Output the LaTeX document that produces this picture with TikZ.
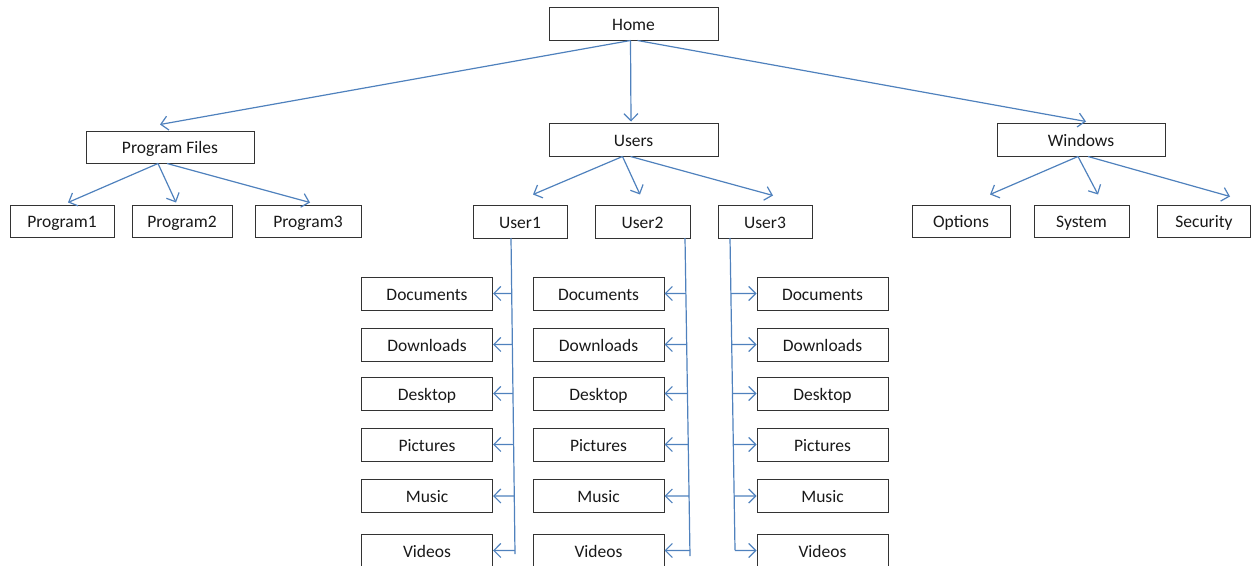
\documentclass[tikz,border=0pt]{standalone}
\usepackage{fontspec}
\setmainfont{Carlito}
\usetikzlibrary{arrows.meta,calc}
\definecolor{linkblue}{RGB}{79,129,189}
\tikzset{
  box/.style={draw=black!80, line width=1pt, minimum height=33pt, inner sep=0pt,
    text height=13pt, text depth=0pt,
    font=\fontsize{17.5}{20}\selectfont, text=black!90},
  arr/.style={draw=linkblue, line width=1.2pt,
    -{Straight Barb[length=7pt,width=14pt,line width=1.2pt]}},
  rail/.style={draw=linkblue, line width=1.2pt},
}
\begin{document}
\begin{tikzpicture}[x=1pt,y=-1pt]
\useasboundingbox (0,0) rectangle (1252,565);

% top level
\node[box, minimum width=169pt] (home) at (633.5,23.5) {Home};
\node[box, minimum width=168pt, minimum height=32pt] (pf) at (170,147) {Program Files};
\node[box, minimum width=169pt] (users) at (633.5,139.5) {Users};
\node[box, minimum width=168pt] (win) at (1081,139.5) {Windows};

% second level
\node[box, minimum width=104pt, minimum height=32pt] (p1) at (62,221) {Program1};
\node[box, minimum width=100pt, minimum height=32pt] (p2) at (182,221) {Program2};
\node[box, minimum width=106pt, minimum height=32pt] (p3) at (308,221) {Program3};
\node[box, minimum width=94pt] (u1) at (520,221.5) {User1};
\node[box, minimum width=95pt] (u2) at (642.5,221.5) {User2};
\node[box, minimum width=94pt] (u3) at (765,221.5) {User3};
\node[box, minimum width=98pt, minimum height=32pt] (opt) at (961,221) {Options};
\node[box, minimum width=95pt, minimum height=32pt] (sys) at (1081.5,221) {System};
\node[box, minimum width=93pt, minimum height=32pt] (sec) at (1204,221) {Security};

% user folders
\foreach \c/\x in {1/427,2/598.5,3/822.5}{
  \node[box, minimum width=131pt] (doc\c) at (\x,293.5) {Documents};
  \node[box, minimum width=131pt] (dl\c)  at (\x,344.5) {Downloads};
  \node[box, minimum width=131pt] (dsk\c) at (\x,393.5) {Desktop};
  \node[box, minimum width=131pt] (pic\c) at (\x,444.5) {Pictures};
  \node[box, minimum width=131pt] (mus\c) at (\x,496) {Music};
  \node[box, minimum width=131pt] (vid\c) at (\x,550.5) {Videos};
}

% Home
\draw[arr] ($(home.south)+(-3,0)$) -- ($(pf.north)+(-10,-6)$);
\draw[arr] ($(home.south)+(-3,0)$) -- ($(users.north)+(-2.5,-1)$);
\draw[arr] ($(home.south)+(4,0)$) -- ($(win.north)+(5,-1)$);

% Program Files
\draw[arr] ($(pf.south)+(-12,0)$) -- ($(p1.north)+(6,-2)$);
\draw[arr] ($(pf.south)+(-12,0)$) -- ($(p2.north)+(-6,-2)$);
\draw[arr] ($(pf.south)+(-3,0)$) -- ($(p3.north)+(2,-2)$);

% Users
\draw[arr] ($(users.south)+(-11,0)$) -- ($(u1.north)+(13,-10)$);
\draw[arr] ($(users.south)+(-11,0)$) -- ($(u2.north)+(-2.5,-10)$);
\draw[arr] ($(users.south)+(-3,0)$) -- ($(u3.north)+(8,-9)$);

% Windows
\draw[arr] ($(win.south)+(-3,0)$) -- ($(opt.north)+(29,-10)$);
\draw[arr] ($(win.south)+(-3,0)$) -- ($(sys.north)+(16.5,-10)$);
\draw[arr] ($(win.south)+(7,0)$) -- ($(sec.north)+(26,-8)$);

% rails below each user
\coordinate (r1a) at (511,238);  \coordinate (r1b) at (515,554);
\coordinate (r2a) at (685,238);  \coordinate (r2b) at (690,556);
\coordinate (r3a) at (730,238);  \coordinate (r3b) at (735,550);
\draw[rail] (r1a) -- (r1b);
\draw[rail] (r2a) -- (r2b);
\draw[rail] (r3a) -- (r3b);

% branches to the folders (columns 1 and 2 point left, column 3 right)
\foreach \f in {doc,dl,dsk,pic,mus,vid}{
  \draw[arr] (intersection of r1a--r1b and \f1.east--\f1.west) -- (\f1.east);
  \draw[arr] (intersection of r2a--r2b and \f2.east--\f2.west) -- (\f2.east);
  \draw[arr] (intersection of r3a--r3b and \f3.west--\f3.east) -- (\f3.west);
}
\end{tikzpicture}
\end{document}
